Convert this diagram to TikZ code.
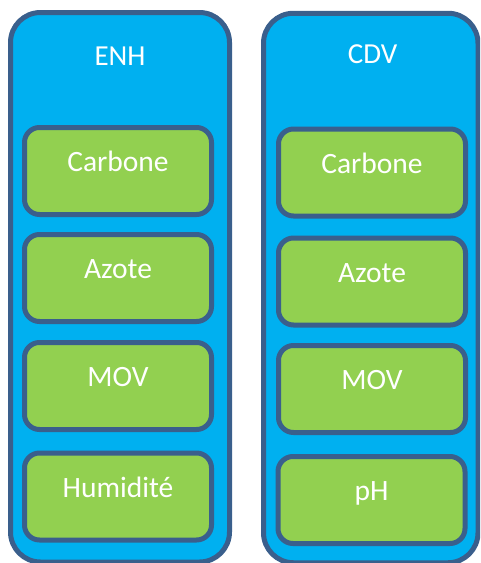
\documentclass[tikz,border=0pt]{standalone}
\usepackage{fontspec}
\setmainfont{Carlito}
\definecolor{panelblue}{HTML}{00B0F0}
\definecolor{edgeblue}{HTML}{3A5F8C}
\definecolor{leafgreen}{HTML}{92D050}
\begin{document}
\begin{tikzpicture}[x=1pt,y=-1pt,
  panel/.style={draw=edgeblue, line width=5pt, fill=panelblue,
    rounded corners=30pt, minimum height=549.5pt, inner sep=0pt},
  item/.style={draw=edgeblue, line width=5pt, fill=leafgreen,
    rounded corners=15pt, minimum width=187pt, minimum height=87pt,
    inner sep=0pt, text=white, font=\fontsize{29.5}{34}\selectfont,
    text height=1.5pt, text depth=0pt},
  title/.style={text=white, font=\fontsize{29}{34}\selectfont,
    anchor=base, inner sep=0pt}]
  \useasboundingbox (0,0) rectangle (480,563);
  \clip (0,0) rectangle (480,563);

  % two columns
  \node[panel, minimum width=219pt] (enh) at (120,287.25) {};
  \node[panel, minimum width=214.5pt] (cdv) at (370.75,288) {};
  \node[title] (enhT) at (120,65) {ENH};
  \node[title] (cdvT) at (372.5,63.5) {CDV};

  % ENH parameters
  \node[item] (e1) at (118,171) {Carbone};
  \node[item] (e2) at (118,278) {Azote};
  \node[item] (e3) at (118,386) {MOV};
  \node[item] (e4) at (118,496.5) {Humidité};

  % CDV parameters
  \node[item] (c1) at (372,172.5) {Carbone};
  \node[item] (c2) at (372,281.5) {Azote};
  \node[item] (c3) at (372,389) {MOV};
  \node[item] (c4) at (371.5,500) {pH};
\end{tikzpicture}
\end{document}
